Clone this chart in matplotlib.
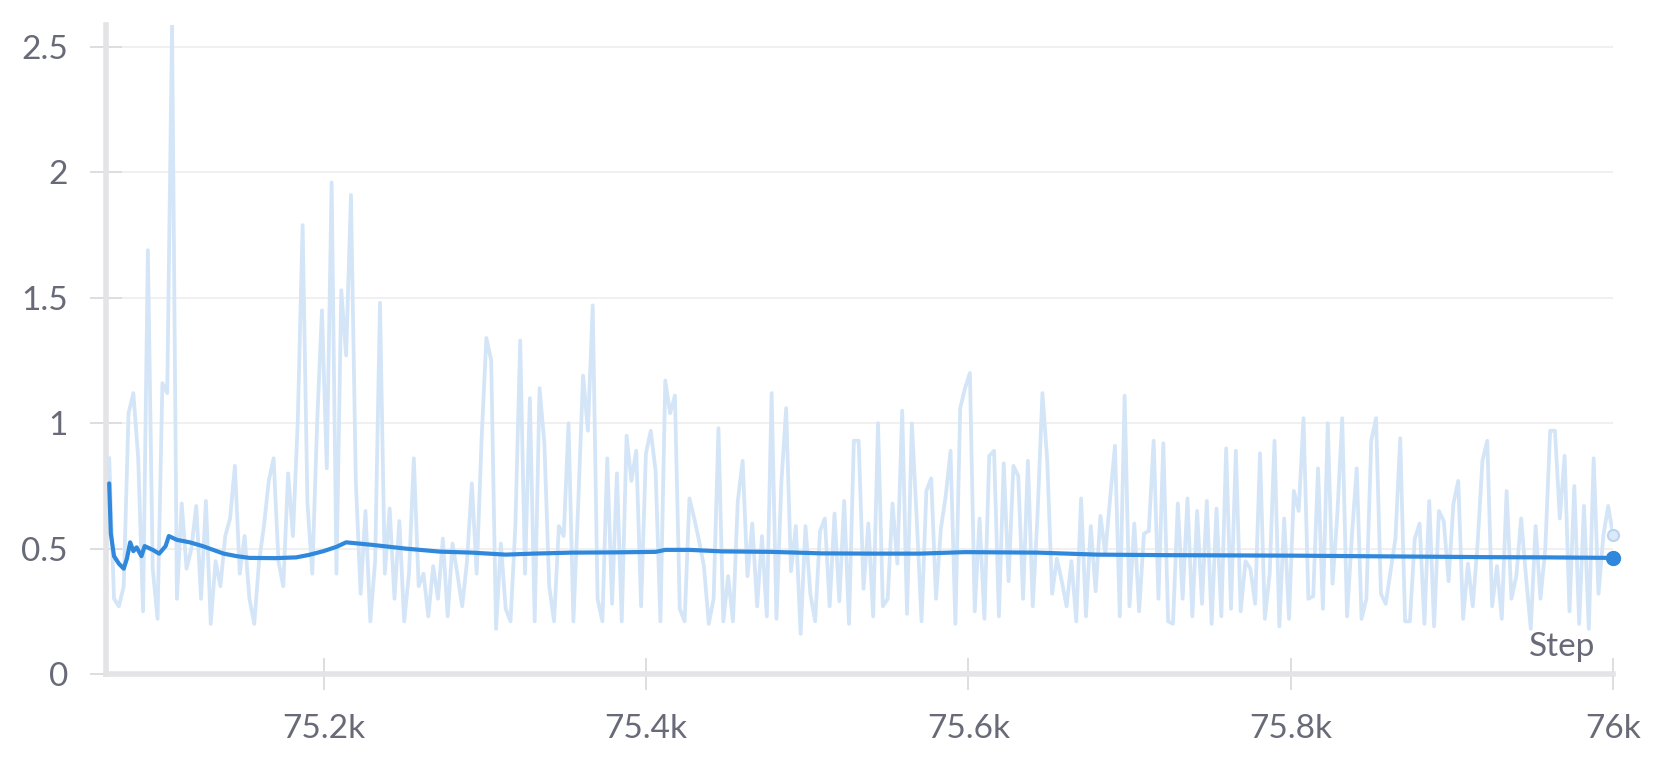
import numpy as np
import matplotlib
matplotlib.use("Agg")
import matplotlib.pyplot as plt

# raw loss, one reading every 3 steps from step 75067 to 76000
raw_start = 75067
raw_every = 3
raw_vals = [
    0.86, 0.30, 0.27, 0.35, 1.04, 1.12, 0.86, 0.25, 1.69, 0.42,
    0.22, 1.16, 1.12, 2.59, 0.30, 0.68, 0.42, 0.50, 0.67, 0.30,
    0.69, 0.20, 0.45, 0.35, 0.55, 0.62, 0.83, 0.40, 0.55, 0.30,
    0.20, 0.45, 0.59, 0.77, 0.86, 0.45, 0.35, 0.80, 0.55, 1.01,
    1.79, 0.68, 0.40, 1.00, 1.45, 0.82, 1.96, 0.40, 1.53, 1.27,
    1.91, 0.77, 0.32, 0.65, 0.21, 0.45, 1.48, 0.40, 0.66, 0.30,
    0.61, 0.21, 0.40, 0.86, 0.35, 0.40, 0.23, 0.43, 0.30, 0.54,
    0.23, 0.52, 0.40, 0.27, 0.45, 0.76, 0.40, 0.93, 1.34, 1.25,
    0.18, 0.52, 0.26, 0.21, 0.59, 1.33, 0.40, 1.10, 0.21, 1.14,
    0.92, 0.35, 0.21, 0.59, 0.55, 1.00, 0.21, 0.68, 1.19, 0.97,
    1.47, 0.30, 0.21, 0.86, 0.28, 0.80, 0.21, 0.95, 0.77, 0.89,
    0.27, 0.88, 0.97, 0.81, 0.21, 1.17, 1.04, 1.11, 0.26, 0.21,
    0.70, 0.62, 0.53, 0.43, 0.20, 0.30, 0.98, 0.21, 0.39, 0.21,
    0.69, 0.85, 0.39, 0.60, 0.27, 0.55, 0.23, 1.12, 0.22, 0.76,
    1.06, 0.41, 0.59, 0.16, 0.59, 0.32, 0.21, 0.57, 0.62, 0.27,
    0.64, 0.29, 0.69, 0.20, 0.93, 0.93, 0.34, 0.60, 0.23, 1.00,
    0.27, 0.30, 0.68, 0.44, 1.05, 0.24, 1.00, 0.62, 0.21, 0.73,
    0.78, 0.30, 0.58, 0.71, 0.89, 0.20, 1.06, 1.14, 1.20, 0.25,
    0.62, 0.22, 0.87, 0.89, 0.23, 0.84, 0.37, 0.83, 0.79, 0.30,
    0.85, 0.27, 0.64, 1.12, 0.85, 0.32, 0.46, 0.37, 0.27, 0.45,
    0.21, 0.70, 0.23, 0.59, 0.33, 0.63, 0.48, 0.70, 0.91, 0.23,
    1.11, 0.27, 0.60, 0.25, 0.56, 0.57, 0.93, 0.30, 0.92, 0.21,
    0.20, 0.68, 0.30, 0.70, 0.23, 0.65, 0.28, 0.69, 0.20, 0.66,
    0.23, 0.90, 0.26, 0.89, 0.25, 0.45, 0.42, 0.28, 0.88, 0.22,
    0.40, 0.93, 0.19, 0.62, 0.22, 0.73, 0.65, 1.02, 0.30, 0.31,
    0.82, 0.26, 1.00, 0.36, 0.64, 1.02, 0.23, 0.55, 0.82, 0.22,
    0.30, 0.93, 1.02, 0.32, 0.28, 0.41, 0.54, 0.94, 0.21, 0.21,
    0.54, 0.60, 0.20, 0.69, 0.19, 0.65, 0.61, 0.37, 0.68, 0.77,
    0.22, 0.44, 0.27, 0.52, 0.85, 0.93, 0.27, 0.43, 0.22, 0.73,
    0.30, 0.39, 0.62, 0.39, 0.18, 0.59, 0.30, 0.50, 0.97, 0.97,
    0.62, 0.87, 0.25, 0.75, 0.20, 0.67, 0.18, 0.86, 0.32, 0.55,
    0.67, 0.555,
]

# smoothed curve as shown by the dashboard
smooth_steps = [75067, 75068, 75070, 75073, 75076, 75077, 75078, 75080, 75082, 75084,
                75087, 75089, 75094, 75098, 75102, 75104, 75109, 75117, 75125, 75138,
                75146, 75154, 75170, 75183, 75191, 75200, 75208, 75214, 75230, 75251,
                75272, 75292, 75313, 75330, 75354, 75380, 75406, 75412, 75427, 75447,
                75478, 75509, 75540, 75570, 75598, 75643, 75680, 75720, 75760, 75800,
                75840, 75880, 75920, 75960, 76000]
smooth_vals = [0.76, 0.56, 0.47, 0.44, 0.42, 0.44, 0.46, 0.525, 0.49, 0.505,
               0.47, 0.51, 0.495, 0.48, 0.51, 0.55, 0.535, 0.525, 0.51, 0.48,
               0.47, 0.463, 0.462, 0.465, 0.475, 0.49, 0.507, 0.525, 0.515, 0.50,
               0.488, 0.484, 0.476, 0.48, 0.484, 0.485, 0.487, 0.495, 0.495, 0.489,
               0.487, 0.481, 0.48, 0.48, 0.486, 0.484, 0.476, 0.474, 0.473, 0.472,
               0.47, 0.468, 0.466, 0.465, 0.463]

x_ticks = [75200, 75400, 75600, 75800, 76000]
x_ticklabels = ['75.2k', '75.4k', '75.6k', '75.8k', '76k']
y_ticks = [0, 0.5, 1, 1.5, 2, 2.5]
y_ticklabels = ['0', '0.5', '1', '1.5', '2', '2.5']

raw_steps = raw_start + raw_every * np.arange(len(raw_vals))

plt.rcParams['font.family'] = ['Lato', 'DejaVu Sans']
text_col = '#686a78'
axis_col = '#e4e4e6'
raw_col = '#d3e5f7'
smooth_col = '#2f88db'

fig = plt.figure(figsize=(16.61, 7.66), dpi=100)
ax = fig.add_axes([0.0638, 0.1201, 0.9073, 0.8473])

ax.plot(raw_steps, raw_vals, color=raw_col, linewidth=2.7, zorder=2)
ax.plot(smooth_steps, smooth_vals, color=smooth_col, linewidth=3.0, zorder=3,
        solid_capstyle='round')

# end markers
ax.plot(raw_steps[-1], raw_vals[-1], 'o', markersize=8, markerfacecolor='#dbe9f8',
        markeredgecolor='#b9d5f1', markeredgewidth=1.5, zorder=4, clip_on=False)
ax.plot(smooth_steps[-1], smooth_vals[-1], 'o', markersize=10, color=smooth_col,
        zorder=5, clip_on=False)

ax.set_xlim(75065, 76000)
ax.set_ylim(0, 2.588)
ax.set_xticks(x_ticks)
ax.set_xticklabels(x_ticklabels)
ax.set_yticks(y_ticks)
ax.set_yticklabels(y_ticklabels)

ax.grid(axis='y', color='#ececee', linewidth=1.1, zorder=0)
ax.set_axisbelow(True)

for s in ['top', 'right']:
    ax.spines[s].set_visible(False)
for s in ['left', 'bottom']:
    ax.spines[s].set_color(axis_col)
    ax.spines[s].set_linewidth(4.0)
    ax.spines[s].set_zorder(1)

ax.tick_params(axis='both', direction='inout', length=23, width=1.4,
               color='#dedee0', labelsize=24, labelcolor=text_col)
ax.tick_params(axis='x', pad=17)
ax.tick_params(axis='y', pad=16)

ax.text(0.9885, 0.018, 'Step', transform=ax.transAxes, ha='right', va='bottom',
        fontsize=24, color=text_col)

fig.savefig('out.png', dpi=100)
